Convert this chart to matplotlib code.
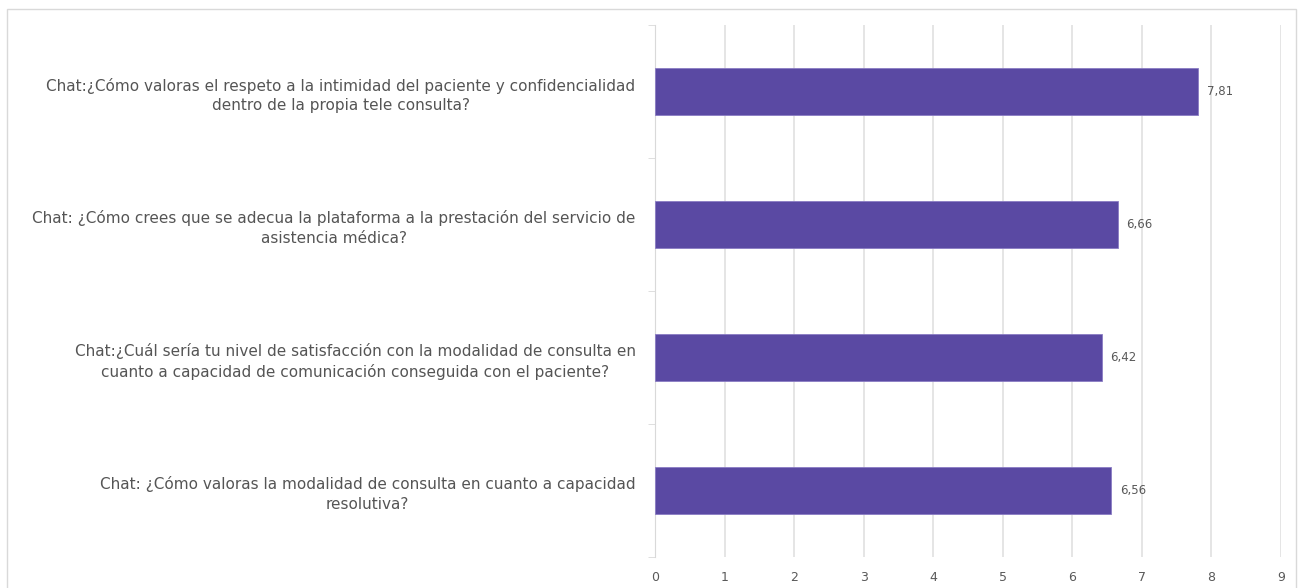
import matplotlib.pyplot as plt
import numpy as np

# questions, top to bottom as shown
preguntas = [
    "Chat:¿Cómo valoras el respeto a la intimidad del paciente y confidencialidad\ndentro de la propia tele consulta?",
    "Chat: ¿Cómo crees que se adecua la plataforma a la prestación del servicio de\nasistencia médica?",
    "Chat:¿Cuál sería tu nivel de satisfacción con la modalidad de consulta en\ncuanto a capacidad de comunicación conseguida con el paciente?",
    "Chat: ¿Cómo valoras la modalidad de consulta en cuanto a capacidad\nresolutiva?",
]
valores = [7.81, 6.66, 6.42, 6.56]
ticks_x = list(range(0, 10))

plt.rcParams['font.family'] = ['DejaVu Sans']

fig = plt.figure(figsize=(13.09, 5.88), dpi=100)
W, H = 1309, 588
ax = fig.add_axes([655 / W, 1 - 557 / H, (1281 - 655) / W, (557 - 25) / H])

# chart frame
fig.patches.append(plt.Rectangle((7 / W, -0.05), (1296 - 7) / W, 1 - 9 / H + 0.05,
                                 transform=fig.transFigure, fill=False,
                                 edgecolor='#d9d9d9', linewidth=1))

y = np.arange(len(preguntas))
bars = ax.barh(y, valores, height=0.35, color='#5A49A3', edgecolor='#8a7cc4', linewidth=0.6, zorder=3)
for yy, v in zip(y, valores):
    ax.text(v + 0.12, yy, ('%.2f' % v).replace('.', ','), va='center', ha='left',
            fontsize=8.5, color='#595959')

ax.set_ylim(len(preguntas) - 0.5, -0.5)
ax.set_xlim(0, 9)
ax.set_xticks(ticks_x)
ax.set_xticklabels([str(t) for t in ticks_x], fontsize=9, color='#595959')
ax.tick_params(axis='x', length=0, pad=10)
ax.grid(axis='x', color='#e3e3e3', linewidth=1.3, zorder=0)
ax.set_axisbelow(True)

ax.set_yticks(y)
ax.set_yticklabels(preguntas, fontsize=11, color='#555555', multialignment='center',
                   linespacing=1.35)
ax.tick_params(axis='y', length=0, pad=14)
ax.set_yticks(np.arange(-0.5, len(preguntas) + 0.5, 1), minor=True)
ax.tick_params(axis='y', which='minor', length=5, color='#d9d9d9')

for s in ['top', 'right', 'bottom']:
    ax.spines[s].set_visible(False)
ax.spines['left'].set_color('#d9d9d9')

fig.savefig('out.png', dpi=100)
